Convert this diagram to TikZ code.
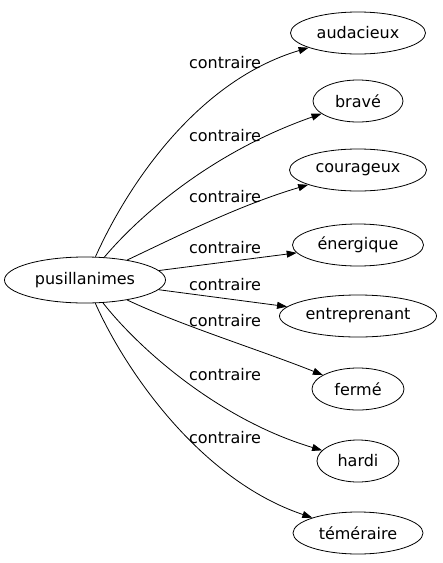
\documentclass[tikz,border=0pt]{standalone}
\usepackage{fontspec}
\setmainfont{DejaVu Sans}
\usetikzlibrary{shapes.geometric,arrows.meta}
\begin{document}
\begin{tikzpicture}[x=1pt,y=-1pt,
  every node/.style={font=\fontsize{16}{19}\selectfont},
  word/.style={ellipse,draw,line width=0.8pt,inner sep=0pt,minimum height=42pt},
  rel/.style={draw,line width=0.8pt,-{Triangle[length=10pt,width=7pt]}},
  lab/.style={inner sep=0pt}]
\useasboundingbox (0,0) rectangle (443,563);
\node[word,minimum width=161pt,minimum height=46pt] (P) at (85,280) {pusillanimes};
\node[word,minimum width=135pt] (A) at (358,33) {audacieux};
\node[word,minimum width=90pt] (B) at (358,101) {bravé};
\node[word,minimum width=137pt] (C) at (358,170) {courageux};
\node[word,minimum width=131pt] (E) at (358,245) {énergique};
\node[word,minimum width=157pt] (N) at (358,316) {entreprenant};
\node[word,minimum width=92pt] (F) at (358,389) {fermé};
\node[word,minimum width=82pt] (H) at (358,461) {hardi};
\node[word,minimum width=130pt] (T) at (358,533) {téméraire};

\node[lab] (l1) at (225,63) {contraire};
\node[lab] (l2) at (225,136) {contraire};
\node[lab] (l3) at (225,197) {contraire};
\node[lab] (l4) at (225,248) {contraire};
\node[lab] (l5) at (225,285) {contraire};
\node[lab] (l6) at (225,321) {contraire};
\node[lab] (l7) at (225,375) {contraire};
\node[lab] (l8) at (225,438) {contraire};

\path[rel] (P) .. controls (130,180) and (200,80) .. (A);
\path[rel] (P) .. controls (140,215) and (212,152) .. (B);
\path[rel] (P) .. controls (180,235) and (240,205) .. (C);
\path[rel] (P) -- (E);
\path[rel] (P) -- (N);
\path[rel] (P) .. controls (180,325) and (260,350) .. (F);
\path[rel] (P) .. controls (140,350) and (220,420) .. (H);
\path[rel] (P) .. controls (125,370) and (200,480) .. (T);
\end{tikzpicture}
\end{document}
